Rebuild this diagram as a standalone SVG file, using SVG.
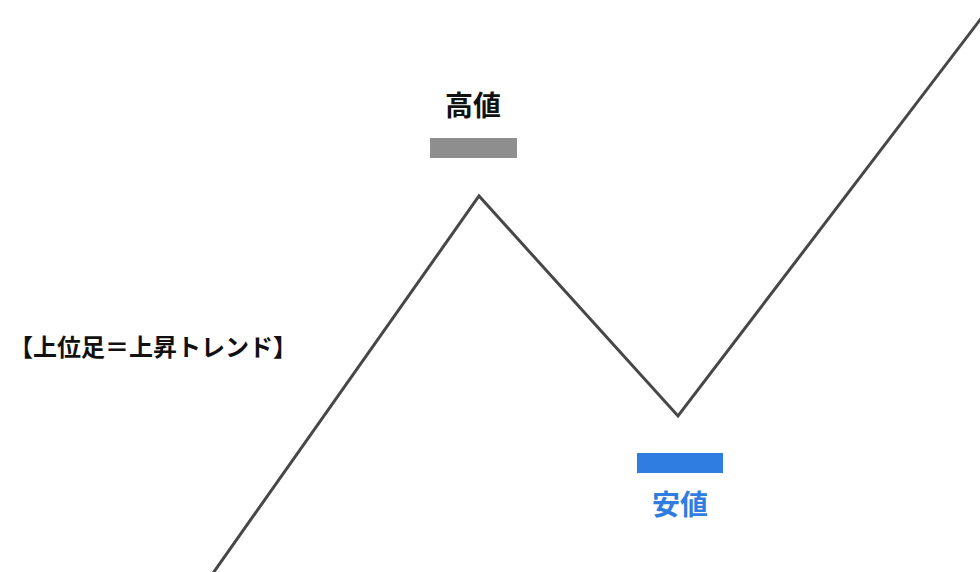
<svg xmlns="http://www.w3.org/2000/svg" width="980" height="572" viewBox="0 0 980 572">
<style>
.t{font-family:"Noto Sans CJK JP","Noto Sans CJK SC",sans-serif;font-weight:bold;}
</style>
<rect width="980" height="572" fill="#ffffff"/>
<g id="connectors">
<polyline points="211,576 479,196 678,416 986,12" fill="none" stroke="#474747" stroke-width="3" stroke-linejoin="miter"/>
</g>
<g id="high">
<text class="t" x="473" y="116" font-size="28" fill="#111111" text-anchor="middle">高値</text>
<rect x="430" y="138" width="87" height="20" fill="#8e8e8e"/>
</g>
<g id="low">
<rect x="637" y="453" width="86" height="20" fill="#2f7de1"/>
<text class="t" x="680" y="515" font-size="28" fill="#2f7de1" text-anchor="middle">安値</text>
</g>
<g id="label">
<text class="t" x="9" y="356" font-size="24" fill="#111111">【上位足＝上昇トレンド】</text>
</g>
</svg>
